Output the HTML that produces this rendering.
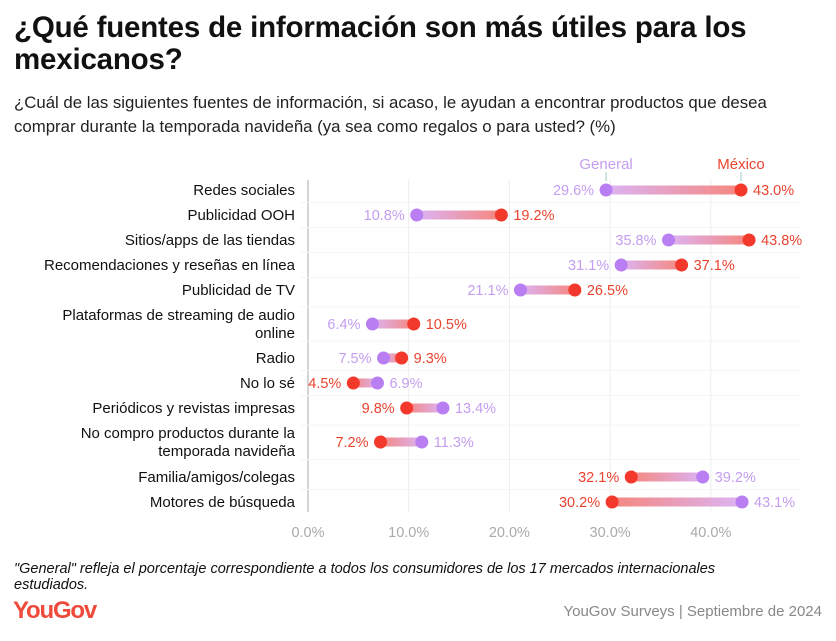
<!DOCTYPE html>
<html><head><meta charset="utf-8"><style>
body{margin:0;width:836px;height:641px;background:#fff;font-family:"Liberation Sans",sans-serif;overflow:hidden;position:relative}
.t{position:absolute;left:14px;top:12px;font-size:29.5px;font-weight:bold;line-height:32px;color:#111;letter-spacing:-0.2px;width:800px}
.s{position:absolute;left:14px;top:91px;font-size:16.8px;line-height:24px;color:#222;width:795px}
.n{position:absolute;left:14px;top:561px;font-size:14.5px;font-style:italic;line-height:16px;color:#111;width:760px}
.l{position:absolute;left:13px;top:597px;font-size:24px;font-weight:bold;color:#ef4b3c;letter-spacing:-1.2px}
.r{position:absolute;right:14px;top:603px;font-size:15px;color:#888}
svg{position:absolute;left:0;top:0}
</style></head><body>
<div class="t">¿Qué fuentes de información son más útiles para los mexicanos?</div>
<div class="s">¿Cuál de las siguientes fuentes de información, si acaso, le ayudan a encontrar productos que desea comprar durante la temporada navideña (ya sea como regalos o para usted? (%)</div>
<svg id="c" width="836" height="641"></svg>
<div class="n">"General" refleja el porcentaje correspondiente a todos los consumidores de los 17 mercados internacionales estudiados.</div>
<div class="l">YouGov</div>
<div class="r">YouGov Surveys | Septiembre de 2024</div>
<script>
const categories=[["Redes sociales"],["Publicidad OOH"],["Sitios/apps de las tiendas"],["Recomendaciones y reseñas en línea"],["Publicidad de TV"],["Plataformas de streaming de audio","online"],["Radio"],["No lo sé"],["Periódicos y revistas impresas"],["No compro productos durante la","temporada navideña"],["Familia/amigos/colegas"],["Motores de búsqueda"]];
const generalVals=[29.6,10.8,35.8,31.1,21.1,6.4,7.5,6.9,13.4,11.3,39.2,43.1];
const mexicoVals=[43.0,19.2,43.8,37.1,26.5,10.5,9.3,4.5,9.8,7.2,32.1,30.2];
const ticks=[0,10,20,30,40];
const rowY=[190,215,240,265,290,324,358,383,408,442,477,502];
const NS="http://www.w3.org/2000/svg",svg=document.getElementById('c');
const x=v=>308+v*10.07;
const PUR="#b87ef2",RED="#f2392b",PT="#c49df0",RT="#e8432f";
function mk(t,a,p){const e=document.createElementNS(NS,t);for(const k in a)e.setAttribute(k,a[k]);(p||svg).appendChild(e);return e;}
const defs=mk('defs',{});
ticks.forEach(t=>{
 const g=mk('line',{x1:x(t),x2:x(t),y1:180,y2:512,stroke:t==0?'#aaa':'#ececec','stroke-width':1});
 
 
 const tl=mk('text',{x:x(t),y:537,'text-anchor':'middle','font-size':14.5,fill:'#aaa'});
 tl.textContent=t.toFixed(1)+'%';
 
 
});
rowY.forEach((y,i)=>{ if(i<rowY.length-1){const m=(y+rowY[i+1])/2;mk('line',{x1:300,x2:800,y1:m,y2:m,stroke:'#f5f5f5'});}});
categories.forEach((c,i)=>{
 const y=rowY[i],g=generalVals[i],m=mexicoVals[i];
 const lb=mk('text',{x:295,'text-anchor':'end','font-size':15,fill:'#111'});
 
 
 c.forEach((s,j)=>{const ts=mk('tspan',{x:295,y:y+5+(j-(c.length-1)/2)*18},lb);ts.textContent=s;});
 const gr=mk('linearGradient',{id:'g'+i,gradientUnits:'userSpaceOnUse',x1:x(g),x2:x(m),y1:0,y2:0},defs);
 mk('stop',{offset:0,'stop-color':'#dcb4f5'},gr);mk('stop',{offset:1,'stop-color':'#f5877e'},gr);
 const bar=mk('line',{x1:x(g),x2:x(m),y1:y,y2:y,stroke:'url(#g'+i+')','stroke-width':9});
 
 
 const d1=mk('circle',{cx:x(g),cy:y,r:6.5,fill:PUR});
 
 
 const d2=mk('circle',{cx:x(m),cy:y,r:6.5,fill:RED});
 
 
 const gl=g>m;
 const t1=mk('text',{x:x(g)+(gl?12:-12),y:y+5,'text-anchor':gl?'start':'end','font-size':14.5,fill:PT});
 t1.textContent=g.toFixed(1)+'%';
 
 
 const t2=mk('text',{x:x(m)+(gl?-12:12),y:y+5,'text-anchor':gl?'end':'start','font-size':14.5,fill:RT});
 t2.textContent=m.toFixed(1)+'%';
 
 
});
[[generalVals[0],'General',PT],[mexicoVals[0],'México',RT]].forEach(([v,s,c])=>{
 mk('line',{x1:x(v),x2:x(v),y1:172,y2:181,stroke:'#9cc',"stroke-width":1});
 const t=mk('text',{x:x(v),y:169,'text-anchor':'middle','font-size':15,fill:c});t.textContent=s;
 
 
});
</script>
</body></html>
